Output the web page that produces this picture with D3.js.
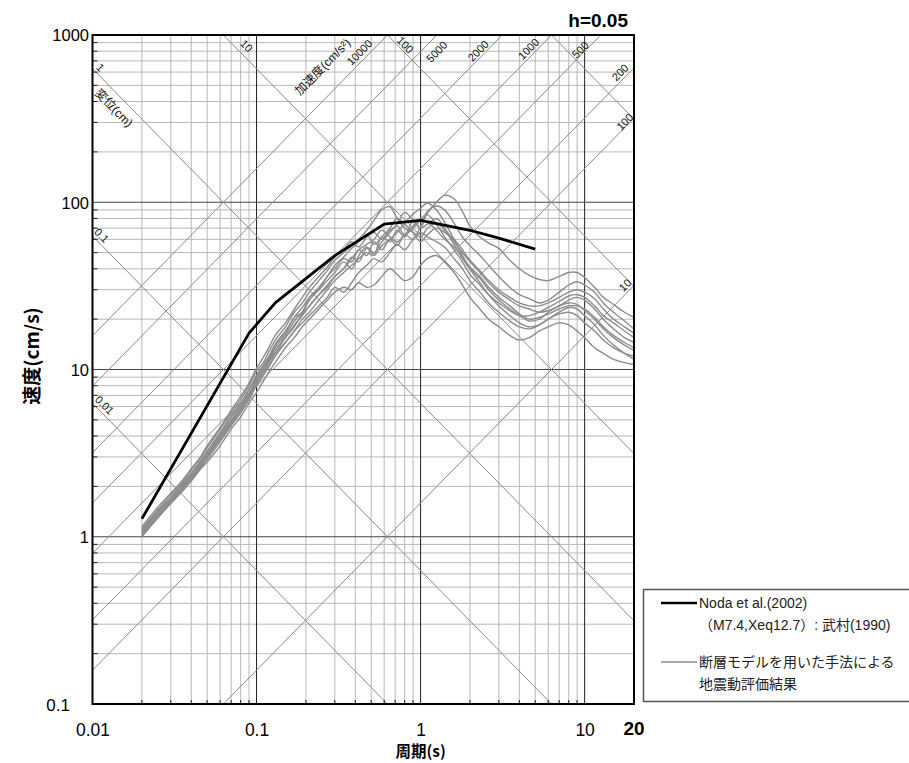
<!DOCTYPE html>
<html><head><meta charset="utf-8">
<script src="https://cdn.jsdelivr.net/npm/d3@7/dist/d3.min.js"></script>
<style>body{margin:0;background:#fff}</style>
</head><body>
<svg id="chart" width="909" height="763"></svg>
<script>
// ---------- data ----------
const periods = [0.02,0.025,0.03,0.035,0.04,0.045,0.05,0.06,0.07,0.08,
 0.09,0.1,0.11,0.12,0.13,0.15,0.17,0.19,0.21,0.24,
 0.27,0.3,0.34,0.38,0.42,0.47,0.52,0.58,0.65,0.72,
 0.8,0.9,1.0,1.1,1.25,1.4,1.6,1.8,2.0,2.3,
 2.6,3.0,3.5,4.0,4.6,5.3,6.0,7.0,8.0,9.0,
 10,11.5,13,15,17.5,20];

const simA = [1.10,1.42,1.72,2.05,2.4,2.75,3.2,4.1,5.2,6.1,
 7.6,9.0,10.5,11.8,14.0,16.5,20.5,22,27,30,
 36,40,46,44,52,48,58,52,60,55,
 64,60,72,86,100,110,105,88,72,62,
 57,53,45,40,36.5,34.5,34,36,38,38,
 35.5,31,27,24.5,22,20.5];
const simB = [1.05,1.35,1.65,1.95,2.25,2.65,3.0,3.9,4.8,5.8,
 7.0,8.5,9.8,11.5,12.5,15.5,18,21.5,24,28,
 31,36,40,47,44,53,49,62,58,68,
 62,78,70,88,95,90,75,62,55,48,
 42,36,31,28,26.5,25,26,29,32,33.5,
 32,29,25,22,19.5,17.5];
const simC = [1.12,1.45,1.78,2.1,2.5,2.9,3.4,4.4,5.5,6.6,
 8.0,9.8,11,13,15,18,22,25,29,34,
 39,45,50,55,60,68,78,90,94,80,
 70,66,62,70,75,68,56,46,40,35,
 30,26,23,21,19.5,20,22,24,25,24.5,
 22.5,20,17.5,15.5,14,13];
const simD = [1.0,1.3,1.6,1.9,2.2,2.55,2.9,3.7,4.6,5.5,
 6.6,8.0,9.2,10.5,12,14.5,17,20,22,26,
 30,34,38,42,46,50,48,55,60,66,
 75,85,92,99,90,76,60,48,40,33,
 28,24,21,19,18,18.5,20,22,23.5,23,
 21,18.5,16,14,12.5,11.5];
const simE = [1.02,1.3,1.58,1.85,2.15,2.5,2.8,3.5,4.4,5.2,
 6.3,7.3,8.5,9.8,11,13.5,15.5,18,20,23,
 26,29,31,30,33,31,32,36,40,37,
 34,36,42,46,48,44,38,32,27,23,
 20,18,16,15,15.5,17,18,19,18.5,17,
 15.5,13.5,12.5,11.5,11,10.7];
const simF = [1.08,1.4,1.7,2.0,2.35,2.7,3.1,4.0,5.0,6.0,
 7.2,8.8,10.2,11.5,13.5,16,19.5,22,26,30,
 34,38,44,40,48,54,50,58,66,74,
 87,78,70,74,80,70,58,50,44,38,
 33,29,26,24,23,22,22.5,24,26,27,
 26,23,20,17.5,15.5,14.5];
const simG = [1.06,1.36,1.65,1.95,2.3,2.6,3.0,3.8,4.7,5.6,
 6.8,8.2,9.5,10.8,12.5,14.5,17,19,21,24,
 27,31,29,33,38,42,46,44,50,56,
 52,60,66,62,58,54,46,40,34,29,
 25,22,19.5,18,17.5,18.5,20,21.5,22,21,
 19,17,15,13.5,12.5,12];
const simH = [1.15,1.5,1.82,2.15,2.55,2.95,3.5,4.5,5.7,6.9,
 8.3,10.2,11.8,13.8,16,19,23,27,31,36,
 41,47,52,58,54,62,66,60,68,72,
 64,70,78,84,74,62,52,44,37,32,
 28,25,22.5,21,21,22,23.5,25.5,27.5,28,
 27,24,21,19,17,15.5];
const simI = [1.03,1.32,1.62,1.92,2.25,2.6,3.05,3.9,4.9,5.8,
 7.0,8.5,9.8,11.2,13,15.5,18.5,21,24,28,
 32,36,40,46,52,56,60,68,62,58,
 64,72,80,76,68,60,54,47,41,36,
 31,27,24,21.5,20,20.5,21.5,23,24,24,
 23,20.5,18,16,14.5,13.5];
const simJ = [1.09,1.4,1.7,2.05,2.4,2.8,3.25,4.2,5.3,6.3,
 7.6,9.3,10.6,12.2,14.2,17,20.5,23.5,27,31,
 36,42,47,53,58,64,56,62,70,80,
 74,66,58,64,70,66,60,52,45,39,
 34,30,27,25,24,24,25,27,29,30,
 29,26.5,23,20,18,16.5];
const simCurves = [simA,simB,simC,simD,simE,simF,simG,simH,simI,simJ];

const nodaPeriods = [0.02,0.09,0.13,0.3,0.6,1.0,2.0,3.0,5.0];
const nodaVel     = [1.28,16.5,25,48,74,78,68,61,52.5];

const xTickValues = [0.01,0.1,1,10];
const xTickLabels = ["0.01","0.1","1","10"];
const xEndLabel = "20";
const yTickValues = [0.1,1,10,100,1000];
const yTickLabels = ["0.1","1","10","100","1000"];

const accelValues = [10,100,200,500,1000,2000,5000,10000];   // cm/s^2
const dispValues  = [0.01,0.1,1,10,100,1000];                // cm
const dispLabelled = [0.01,0.1,1,10,100];

const titleX = "周期(s)";
const titleY = "速度(cm/s)";
const dampingLabel = "h=0.05";
const accelTitle = "加速度(cm/s²)";
const dispTitle = "変位(cm)";
const legendNoda = ["Noda et al.(2002)", "（M7.4,Xeq12.7）: 武村(1990)"];
const legendSim = ["断層モデルを用いた手法による", "地震動評価結果"];

// ---------- drawing ----------
const svg = d3.select("#chart");
const L = 92.5, R = 634, T = 35, B = 704;
const x = d3.scaleLog().domain([0.01,20]).range([L,R]);
const y = d3.scaleLog().domain([0.1,1000]).range([B,T]);
const TWO_PI = 2*Math.PI;
const latin = "'Liberation Sans', Arial, sans-serif";
const jp = "'Liberation Sans', 'Noto Sans CJK JP', sans-serif";

svg.append("defs").append("clipPath").attr("id","plotclip")
  .append("rect").attr("x",L).attr("y",T).attr("width",R-L).attr("height",B-T);

const grid = svg.append("g");
const xMinor = [], yMinor = [];
[0.01,0.1,1,10].forEach(d=>{ for(let k=2;k<=9;k++){ const v=k*d; if(v<20-1e-9) xMinor.push(v);} });
[0.1,1,10,100].forEach(d=>{ for(let k=2;k<=9;k++) yMinor.push(k*d); });
grid.selectAll(".vmin").data(xMinor).join("line")
  .attr("x1",d=>x(d)).attr("x2",d=>x(d)).attr("y1",T).attr("y2",B)
  .attr("stroke","#b8b8b8").attr("stroke-width",1);
grid.selectAll(".hmin").data(yMinor).join("line")
  .attr("y1",d=>y(d)).attr("y2",d=>y(d)).attr("x1",L).attr("x2",R)
  .attr("stroke","#b8b8b8").attr("stroke-width",1);
grid.selectAll(".vmaj").data(xTickValues.slice(1)).join("line")
  .attr("x1",d=>x(d)).attr("x2",d=>x(d)).attr("y1",T).attr("y2",B)
  .attr("stroke","#222").attr("stroke-width",1);
grid.selectAll(".hmaj").data(yTickValues.slice(1,-1)).join("line")
  .attr("y1",d=>y(d)).attr("y2",d=>y(d)).attr("x1",L).attr("x2",R)
  .attr("stroke","#444").attr("stroke-width",1.2);

// diagonal lines
const diag = svg.append("g").attr("clip-path","url(#plotclip)");
const Tmin = 0.01, Tmax = 20;
diag.selectAll(".acc").data(accelValues).join("line")
  .attr("x1",x(Tmin)).attr("y1",d=>y(d*Tmin/TWO_PI))
  .attr("x2",x(Tmax)).attr("y2",d=>y(d*Tmax/TWO_PI))
  .attr("stroke","#8a8a8a").attr("stroke-width",1);
diag.selectAll(".dis").data(dispValues).join("line")
  .attr("x1",x(Tmin)).attr("y1",d=>y(TWO_PI*d/Tmin))
  .attr("x2",x(Tmax)).attr("y2",d=>y(TWO_PI*d/Tmax))
  .attr("stroke","#8a8a8a").attr("stroke-width",1);

// curves
const curves = svg.append("g").attr("clip-path","url(#plotclip)");
const line = d3.line().x(d=>x(d[0])).y(d=>y(d[1])).curve(d3.curveCatmullRom.alpha(0.5));
simCurves.forEach(vals=>{
  curves.append("path").datum(periods.map((p,i)=>[p,vals[i]]))
    .attr("d",line).attr("fill","none").attr("stroke","#8c8c8c").attr("stroke-width",1.4);
});
const nodaLine = d3.line().x(d=>x(d[0])).y(d=>y(d[1]));
curves.append("path").datum(nodaPeriods.map((p,i)=>[p,nodaVel[i]]))
  .attr("d",nodaLine).attr("fill","none").attr("stroke","#000").attr("stroke-width",2.8)
  .attr("stroke-linejoin","round");

// ticks (inward, minor)
const ticks = svg.append("g");
ticks.selectAll(".lt").data(yMinor).join("line")
  .attr("x1",L).attr("x2",L+5).attr("y1",d=>y(d)).attr("y2",d=>y(d))
  .attr("stroke","#222").attr("stroke-width",1);
ticks.selectAll(".bt").data(xMinor).join("line")
  .attr("x1",d=>x(d)).attr("x2",d=>x(d)).attr("y1",B).attr("y2",B-4)
  .attr("stroke","#222").attr("stroke-width",1);

// frame
svg.append("rect").attr("x",L).attr("y",T).attr("width",R-L).attr("height",B-T)
  .attr("fill","none").attr("stroke","#000").attr("stroke-width",2);

// axis tick labels
const xAxis = d3.axisBottom(x).tickValues(xTickValues).tickFormat((d,i)=>xTickLabels[i]).tickSize(0).tickPadding(0);
const gx = svg.append("g").attr("transform",`translate(0,${B})`).call(xAxis);
gx.select(".domain").remove();
gx.selectAll("text").attr("dy",null).attr("y",32).attr("font-family",latin).attr("font-size","17.5px").attr("fill","#000");
svg.append("text").attr("x",x(20)).attr("y",735).attr("text-anchor","middle")
  .attr("font-family",latin).attr("font-weight","bold").attr("font-size","19px").text(xEndLabel);

const yAxis = d3.axisLeft(y).tickValues(yTickValues).tickFormat((d,i)=>yTickLabels[i]).tickSize(0).tickPadding(0);
const gy = svg.append("g").attr("transform",`translate(89,0)`).call(yAxis);
gy.select(".domain").remove();
gy.selectAll("text").attr("x",0).attr("dy","0.36em").attr("font-family",latin).attr("font-size","16.5px").attr("fill","#000");
gy.selectAll(".tick").filter(d=>d===yTickValues[0]).select("text").attr("x",-19).attr("font-size","17px");

// titles
svg.append("text").attr("x",x(1)).attr("y",757).attr("text-anchor","middle")
  .attr("font-family","'Noto Sans CJK JP', sans-serif").attr("font-weight","bold").attr("font-size","15.5px").text(titleX);
svg.append("text").attr("transform",`translate(39,356) rotate(-90)`).attr("text-anchor","middle")
  .attr("font-family","'Noto Sans CJK JP', sans-serif").attr("font-weight","bold").attr("font-size","19px").text(titleY);
svg.append("text").attr("x",628).attr("y",27).attr("text-anchor","end")
  .attr("font-family",latin).attr("font-weight","bold").attr("font-size","19px").text(dampingLabel);

// labels on diagonal lines
function accelExit(sa){
  const vEnd = sa*Tmax/TWO_PI;
  if (vEnd > 1000){ const t = TWO_PI*1000/sa; return [x(t), y(1000)]; }
  return [x(Tmax), y(vEnd)];
}
function dispStart(sd){
  const v0 = TWO_PI*sd/Tmin;
  if (v0 <= 1000) return [x(Tmin), y(v0)];
  const t = TWO_PI*sd/1000; return [x(t), y(1000)];
}
const slope = (y(1000)-y(100))/(x(10)-x(1));
const ux = 1/Math.sqrt(1+slope*slope), uy = slope*ux;
const accDir = [ux, uy], disDir = [ux, -uy];
const accAngle = Math.atan2(uy,ux)*180/Math.PI, disAngle = -accAngle;
function placeLabel(P, dir, along, normal, angle, txt, size, fam){
  const n = [dir[1], -dir[0]];
  const cx = P[0] + along*dir[0] + normal*n[0];
  const cy = P[1] + along*dir[1] + normal*n[1];
  svg.append("text").attr("transform",`translate(${cx},${cy}) rotate(${angle})`)
    .attr("text-anchor","middle").attr("dy","0.35em")
    .attr("font-family",fam||latin).attr("font-size",size||"11px").attr("fill","#111").text(txt);
}
const accLayout = {10:[-6,6.5],100:[-9,4],200:[-13,6.7],500:[-25,4.4],1000:[-26,6.6],2000:[-28,5.9],5000:[-12,-11.6],10000:[-32,7.7]};
accelValues.forEach(v=>{ const o=accLayout[v]; placeLabel(accelExit(v), accDir, o[0], o[1], accAngle, String(v)); });
placeLabel(accelExit(10000), accDir, -68, 24, accAngle, accelTitle, "12px", jp);
const disLayout = {0.01:[9.7,7.3],0.1:[6.1,6.9],1:[4.7,6.6],10:[24,8.9],100:[19.4,5.6]};
dispLabelled.forEach(v=>{ const o=disLayout[v]; placeLabel(dispStart(v), disDir, o[0], o[1], disAngle, String(v)); });
placeLabel(dispStart(1), disDir, 43, -12, disAngle, dispTitle, "12px", jp);

// legend
const lg = svg.append("g");
lg.append("rect").attr("x",643.5).attr("y",589.5).attr("width",300).attr("height",112)
  .attr("fill","#fff").attr("stroke","#555").attr("stroke-width",1.5);
lg.append("line").attr("x1",661).attr("x2",697).attr("y1",603).attr("y2",603).attr("stroke","#000").attr("stroke-width",2.5);
lg.append("line").attr("x1",661).attr("x2",697).attr("y1",662).attr("y2",662).attr("stroke","#8c8c8c").attr("stroke-width",1.4);
const legRows = [[legendNoda[0],603],[legendNoda[1],625],[legendSim[0],662],[legendSim[1],683.5]];
legRows.forEach(r=>{
  lg.append("text").attr("x",699).attr("y",r[1]+5).attr("font-family",jp).attr("font-size","14px").attr("fill","#222").text(r[0]);
});
</script>
</body></html>
